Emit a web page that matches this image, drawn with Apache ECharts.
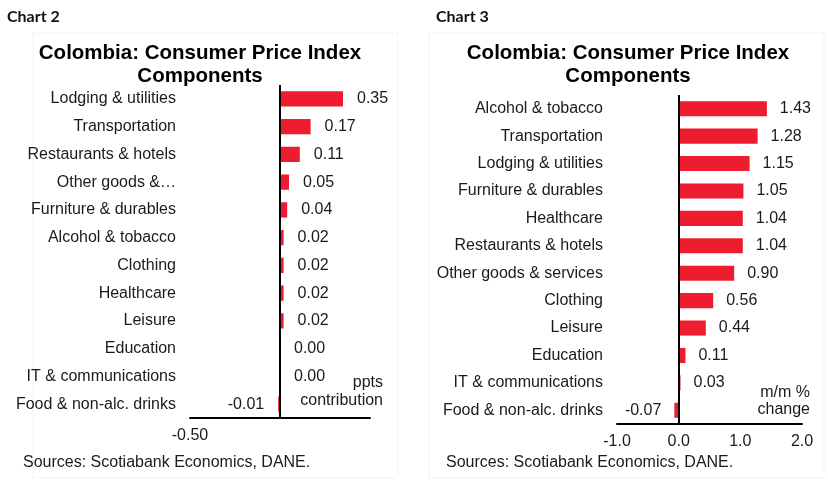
<!DOCTYPE html>
<html>
<head>
<meta charset="utf-8">
<script src="https://cdn.jsdelivr.net/npm/echarts@6/dist/echarts.min.js"></script>
<style>
  html, body { margin: 0; padding: 0; background: #fff; }
  #main { width: 828px; height: 482px; }
</style>
</head>
<body>
<div id="main"></div>
<script>
// Chart 2: contribution to CPI (ppts)
const contribCats = ['Lodging & utilities', 'Transportation', 'Restaurants & hotels', 'Other goods &…',
  'Furniture & durables', 'Alcohol & tobacco', 'Clothing', 'Healthcare', 'Leisure', 'Education',
  'IT & communications', 'Food & non-alc. drinks']
const contribVals = [0.35, 0.17, 0.11, 0.05, 0.04, 0.02, 0.02, 0.02, 0.02, 0.00, 0.00, -0.01]
const contribTicks = [-0.5]

// Chart 3: m/m % change
const changeCats = ['Alcohol & tobacco', 'Transportation', 'Lodging & utilities', 'Furniture & durables',
  'Healthcare', 'Restaurants & hotels', 'Other goods & services', 'Clothing', 'Leisure', 'Education',
  'IT & communications', 'Food & non-alc. drinks']
const changeVals = [1.43, 1.28, 1.15, 1.05, 1.04, 1.04, 0.90, 0.56, 0.44, 0.11, 0.03, -0.07]

const red = '#ed1c2e'
const txt = '#1a1a1a'
const font = 'Liberation Sans, Arial, sans-serif'
const fs = 16

function barData(vals) {
  // negative values get their label on the left of the bar
  return vals.map(v => ({
    value: v,
    label: { position: v < 0 ? 'left' : 'right' }
  }))
}

function catAxis(idx, cats) {
  return {
    type: 'category',
    gridIndex: idx,
    data: cats,
    inverse: true,
    position: 'left',
    axisLine: { show: false },
    axisTick: { show: false },
    axisLabel: { color: txt, fontSize: fs, fontFamily: font, margin: 14 }
  }
}

let myChart = echarts.init(document.getElementById('main'))
myChart.setOption({
  backgroundColor: '#fff',
  animation: false,
  title: [
    { text: 'Chart 2', left: 2, top: 4, textStyle: { fontFamily: 'Lato', fontWeight: 'bold', fontSize: 16, color: '#111' } },
    { text: 'Chart 3', left: 431, top: 4, textStyle: { fontFamily: 'Lato', fontWeight: 'bold', fontSize: 16, color: '#111' } },
    {
      text: 'Colombia: Consumer Price Index\nComponents', left: 195, top: 37, textAlign: 'center',
      textStyle: { fontFamily: font, fontWeight: 'bold', fontSize: 20.5, lineHeight: 23, color: '#000' }
    },
    {
      text: 'Colombia: Consumer Price Index\nComponents', left: 623, top: 37, textAlign: 'center',
      textStyle: { fontFamily: font, fontWeight: 'bold', fontSize: 20.5, lineHeight: 23, color: '#000' }
    }
  ],
  grid: [
    { left: 190, width: 180, top: 85, height: 333 },
    { left: 617, width: 185, top: 95, height: 329 }
  ],
  xAxis: [
    {
      type: 'value', gridIndex: 0, min: -0.5, max: 0.5, interval: 0.5,
      splitLine: { show: false },
      axisTick: { show: false },
      axisLine: { show: true, onZero: false, lineStyle: { color: '#000', width: 2 } },
      axisLabel: {
        color: txt, fontSize: fs, fontFamily: font, margin: 10,
        formatter: v => contribTicks.some(t => Math.abs(t - v) < 1e-9) ? v.toFixed(2) : ''
      }
    },
    {
      type: 'value', gridIndex: 1, min: -1, max: 2, interval: 1,
      splitLine: { show: false },
      axisTick: { show: false },
      axisLine: { show: true, onZero: false, lineStyle: { color: '#000', width: 2 } },
      axisLabel: { color: txt, fontSize: fs, fontFamily: font, margin: 10, formatter: v => v.toFixed(1) }
    }
  ],
  yAxis: [catAxis(0, contribCats), catAxis(1, changeCats)],
  series: [
    {
      type: 'bar', xAxisIndex: 0, yAxisIndex: 0, barWidth: '55%',
      itemStyle: { color: red },
      label: { show: true, distance: 14, color: txt, fontSize: fs, fontFamily: font, formatter: p => p.value.toFixed(2) },
      data: barData(contribVals),
      markLine: {
        silent: true, symbol: 'none', label: { show: false },
        lineStyle: { color: '#000', width: 2, type: 'solid' },
        data: [{ xAxis: 0 }]
      }
    },
    {
      type: 'bar', xAxisIndex: 1, yAxisIndex: 1, barWidth: '55%',
      itemStyle: { color: red },
      label: { show: true, distance: 13, color: txt, fontSize: fs, fontFamily: font, formatter: p => p.value.toFixed(2) },
      data: barData(changeVals),
      markLine: {
        silent: true, symbol: 'none', label: { show: false },
        lineStyle: { color: '#000', width: 2, type: 'solid' },
        data: [{ xAxis: 0 }]
      }
    }
  ],
  graphic: [
    { type: 'rect', shape: { x: 33, y: 33, width: 365, height: 445 }, style: { fill: 'none', stroke: '#f3f3f3', lineWidth: 1 }, z: -1 },
    { type: 'rect', shape: { x: 429, y: 33, width: 395, height: 445 }, style: { fill: 'none', stroke: '#f3f3f3', lineWidth: 1 }, z: -1 },
    {
      type: 'text', x: 383, y: 374,
      style: { text: 'ppts\ncontribution', align: 'right', fill: txt, font: fs + 'px ' + font, lineHeight: 18 }
    },
    {
      type: 'text', x: 810, y: 384,
      style: { text: 'm/m %\nchange', align: 'right', fill: txt, font: fs + 'px ' + font, lineHeight: 17 }
    },
    {
      type: 'text', x: 23, y: 455,
      style: { text: 'Sources: Scotiabank Economics, DANE.', fill: txt, font: fs + 'px ' + font }
    },
    {
      type: 'text', x: 446, y: 455,
      style: { text: 'Sources: Scotiabank Economics, DANE.', fill: txt, font: fs + 'px ' + font }
    }
  ]
})
</script>
</body>
</html>
